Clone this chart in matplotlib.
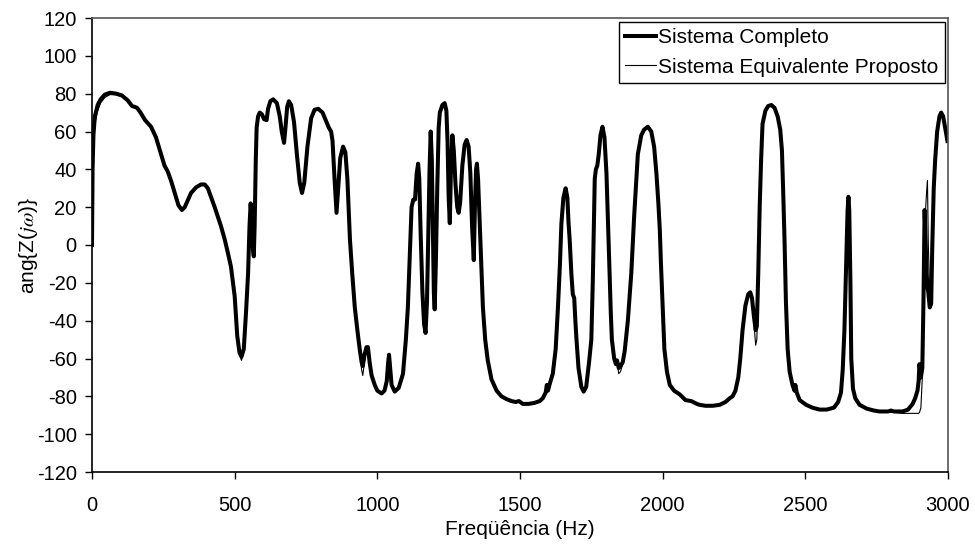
import matplotlib
matplotlib.use("Agg")
import matplotlib.pyplot as plt

plt.rcParams['font.family'] = ['Liberation Sans', 'DejaVu Sans']
plt.rcParams['mathtext.fontset'] = 'stix'
plt.rcParams['axes.unicode_minus'] = False

# frequency samples (Hz)
freq = [
    0, 2, 5, 10, 20, 30, 45, 63, 85, 105,
    125, 140, 150, 158, 170, 186, 207, 224, 240, 254,
    265, 277, 291, 303, 315, 325, 347, 365, 382, 395,
    406, 418, 430, 452, 465, 476, 487, 500, 509, 517,
    524, 532, 540, 547, 552, 556, 560, 564, 567, 570,
    574, 577, 582, 588, 596, 603, 612, 617, 625, 635,
    648, 658, 665, 673, 678, 684, 690, 698, 708, 718,
    728, 736, 744, 755, 768, 780, 793, 808, 822, 830,
    838, 843, 850, 857, 863, 870, 880, 888, 895, 904,
    912, 921, 930, 939, 945, 949, 955, 962, 967, 973,
    980, 991, 1000, 1015, 1025, 1033, 1038, 1041, 1045, 1050,
    1061, 1075, 1090, 1100, 1107, 1114, 1120, 1126, 1132, 1138,
    1143, 1147, 1152, 1158, 1164, 1169, 1174, 1178, 1183, 1187,
    1191, 1195, 1198, 1201, 1205, 1210, 1215, 1219, 1228, 1236,
    1242, 1246, 1250, 1254, 1258, 1263, 1268, 1274, 1280, 1285,
    1290, 1298, 1306, 1313, 1320, 1326, 1332, 1338, 1342, 1346,
    1349, 1353, 1359, 1365, 1370, 1378, 1387, 1400, 1418, 1435,
    1453, 1470, 1485, 1496, 1510, 1530, 1550, 1569, 1580, 1590,
    1594, 1598, 1605, 1615, 1625, 1633, 1640, 1645, 1652, 1660,
    1666, 1670, 1674, 1680, 1685, 1690, 1694, 1698, 1705, 1715,
    1723, 1732, 1742, 1750, 1755, 1758, 1762, 1766, 1771, 1776,
    1782, 1789, 1796, 1803, 1809, 1814, 1818, 1822, 1830, 1836,
    1840, 1846, 1852, 1860, 1867, 1878, 1890, 1900, 1913, 1925,
    1935, 1948, 1960, 1970, 1978, 1985, 1990, 1994, 2000, 2006,
    2015, 2025, 2040, 2060, 2080, 2100, 2120, 2130, 2150, 2175,
    2200, 2220, 2235, 2245, 2255, 2265, 2272, 2280, 2290, 2300,
    2307, 2313, 2320, 2326, 2330, 2335, 2340, 2345, 2350, 2360,
    2370, 2381, 2392, 2403, 2412, 2418, 2423, 2427, 2432, 2438,
    2445, 2455, 2462, 2465, 2470, 2480, 2503, 2525, 2550, 2575,
    2600, 2615, 2625, 2631, 2637, 2643, 2648, 2651, 2654, 2658,
    2661, 2667, 2675, 2690, 2715, 2740, 2760, 2790, 2800, 2810,
    2841, 2860, 2876, 2885, 2893, 2897, 2900, 2905, 2910, 2914,
    2918, 2921, 2925, 2928, 2931, 2936, 2941, 2945, 2950, 2955,
    2962, 2970, 2976, 2983, 2990, 2998,
]

# Sistema Completo (thick line)
ang_completo = [
    0, 40, 58, 68, 74, 77, 79.5, 80.5, 80, 79,
    76.5, 73.5, 73, 72.5, 70, 66, 62.5, 57, 49, 42,
    39, 34, 27, 21, 18.5, 20, 27.5, 30.5, 32, 32,
    30, 25, 20, 10, 3, -4, -11.5, -27, -48, -57,
    -59, -55, -35, -15, 10, 22, 12, -2, -6, 10,
    45, 62, 68, 70, 69, 66.5, 66, 72, 76, 77,
    75, 68, 60, 54, 62, 73, 76, 74, 65, 48,
    33, 27.5, 33, 52, 67, 71.5, 72, 70, 65, 62,
    60, 55, 35, 17, 30, 46, 52, 49, 35, 3,
    -15, -33, -45, -56, -62, -64, -58, -54, -54, -62,
    -69, -74, -77, -78.5, -77, -72, -62, -58, -65, -74,
    -77.5, -75.5, -68, -50, -33, -5, 20, 24, 24, 38,
    43, 35, 5, -25, -42, -46.5, -30, 0, 40, 60,
    45, 5, -25, -34, -10, 30, 62, 70, 74, 75,
    71, 55, 25, 11.5, 40, 58, 50, 32, 20, 17,
    22, 42, 53, 55.5, 52, 38, 10, -8, 20, 40,
    43, 35, 11, -13, -33, -50, -61, -71, -77, -80,
    -81.5, -82.5, -83, -82.5, -84, -84, -83.5, -82.5, -81, -78,
    -74, -77, -73, -68, -55, -33, -10, 11, 25, 30,
    25, 12, 3, -15, -26, -28, -40, -50, -65, -75,
    -77.5, -75, -62, -50, -20, 3, 35, 40, 42, 48,
    58, 62.5, 57, 38, 10, -15, -35, -50, -60, -63,
    -61, -65, -64, -62, -56, -40, -15, 15, 48, 58,
    61, 62.5, 60, 52, 38, 22, 8, -10, -33, -55,
    -67, -74, -77, -79, -82, -82.5, -84, -84.5, -85, -85,
    -84.5, -83, -81, -80, -77, -70, -60, -45, -32, -26,
    -25, -28, -38, -45, -43, -15, 20, 45, 64, 71,
    73.5, 74, 72.5, 68, 61, 50, 25, 3, -30, -55,
    -67, -74, -77, -74, -78, -82, -84.5, -86, -87, -87,
    -86, -83, -78, -66, -45, -10, 18, 25.5, 18, -20,
    -60, -76, -81, -84.5, -86.5, -87.5, -88, -88, -87.5, -88,
    -88, -87, -84, -81, -77, -72, -63, -70, -65, -30,
    18.5, 5, -15, -22, -25, -33, -31, 0, 30, 45,
    60, 68, 70, 68, 62, 55,
]

# Sistema Equivalente Proposto (thin line)
ang_equivalente = [
    0, 30, 52, 64, 71, 75, 78, 79.5, 79.5, 78.5,
    76, 73.5, 73, 72.5, 70, 66, 62.5, 57, 49, 42,
    39, 34, 27, 21, 18.5, 20, 27.5, 30.5, 32, 32,
    30, 25, 20, 10, 3, -4, -11.5, -27, -48, -58,
    -61, -56, -36, -15, 10, 22, 12, -2, -6, 10,
    45, 62, 68, 70, 69, 66.5, 66, 72, 76, 77,
    75, 68, 60, 54, 62, 73, 76, 74, 65, 48,
    33, 27.5, 33, 52, 67, 71.5, 72, 70, 65, 62,
    60, 55, 35, 17, 30, 46, 52, 49, 35, 3,
    -15, -33, -46, -58, -66, -69, -62, -55, -55, -63,
    -69, -74, -77, -78.5, -77, -72, -62, -58, -65, -74,
    -77.5, -75.5, -68, -50, -33, -5, 20, 24, 24, 38,
    43, 35, 5, -25, -43, -47, -30, 0, 40, 60,
    45, 5, -25, -34, -10, 30, 62, 70, 74, 75,
    71, 55, 25, 11.5, 40, 58, 50, 32, 20, 17,
    22, 42, 53, 55.5, 52, 38, 10, -8, 20, 40,
    43, 35, 11, -13, -33, -50, -61, -71, -77, -80,
    -81.5, -82.5, -83, -82.5, -84, -84, -83.5, -82.5, -81, -78,
    -74, -77, -73, -68, -55, -33, -10, 11, 25, 30,
    25, 12, 3, -15, -26, -28, -40, -50, -65, -75,
    -77.5, -75, -62, -50, -20, 3, 35, 40, 42, 48,
    58, 62.5, 57, 38, 10, -15, -35, -50, -60, -63,
    -62, -68, -67, -63, -57, -41, -15, 15, 48, 58,
    61, 62.5, 60, 52, 38, 22, 8, -10, -33, -55,
    -67, -74, -77, -79, -82, -82.5, -84, -84.5, -85, -85,
    -84.5, -83, -81, -80, -77, -70, -60, -45, -32, -26,
    -25, -29, -42, -53, -50, -20, 18, 45, 64, 71,
    73.5, 74, 72.5, 68, 61, 50, 25, 3, -30, -55,
    -67, -74, -77, -74, -78, -82, -84.5, -86, -87, -87,
    -86, -83, -78, -66, -45, -10, 18, 25.5, 18, -20,
    -60, -76, -81, -84.5, -86.5, -87.5, -88, -88.5, -88.5, -88.5,
    -89, -89, -89, -89, -89, -89, -88.5, -86, -70, -30,
    10, 18, 28, 34, 0, -25, -31, 0, 30, 45,
    60, 67, 69, 67, 61, 55,
]

x_ticks = [0, 500, 1000, 1500, 2000, 2500, 3000]
y_ticks = list(range(-120, 121, 20))

FS = 14.5

fig = plt.figure(figsize=(9.75, 5.47), dpi=100)
ax = fig.add_axes([92 / 975, 1 - 472 / 547, (948 - 92) / 975, (472 - 18) / 547])

ax.plot(freq, ang_completo, color='black', lw=2.9, label='Sistema Completo',
        solid_joinstyle='round')
ax.plot(freq, ang_equivalente, color='black', lw=0.8, label='Sistema Equivalente Proposto')

ax.set_xlim(0, 3000)
ax.set_ylim(-120, 120)
ax.set_xticks(x_ticks)
ax.set_yticks(y_ticks)
ax.tick_params(direction='out', length=5, width=1, labelsize=FS, colors='black')
ax.tick_params(axis='x', pad=12)
ax.tick_params(axis='y', pad=6)
for s in ['left', 'bottom']:
    ax.spines[s].set_linewidth(1.2)
    ax.spines[s].set_color('black')
for s in ['top', 'right']:
    ax.spines[s].set_linewidth(1.2)
    ax.spines[s].set_color('#555555')

ax.set_xlabel('Freqüência (Hz)', fontsize=FS + 0.5, labelpad=4)
ax.set_ylabel(r'ang{Z($j\omega$)}', fontsize=FS + 0.5, labelpad=-2)

leg = ax.legend(loc='upper right', bbox_to_anchor=(945 / 975, 1 - 22 / 547),
                bbox_transform=fig.transFigure, borderaxespad=0,
                fancybox=False, framealpha=1, edgecolor='black',
                fontsize=FS + 0.5, handlelength=1.5, handletextpad=0.12,
                labelspacing=0.5, borderpad=0.3)
leg.get_frame().set_linewidth(1.0)

fig.savefig('out.png', dpi=100)
